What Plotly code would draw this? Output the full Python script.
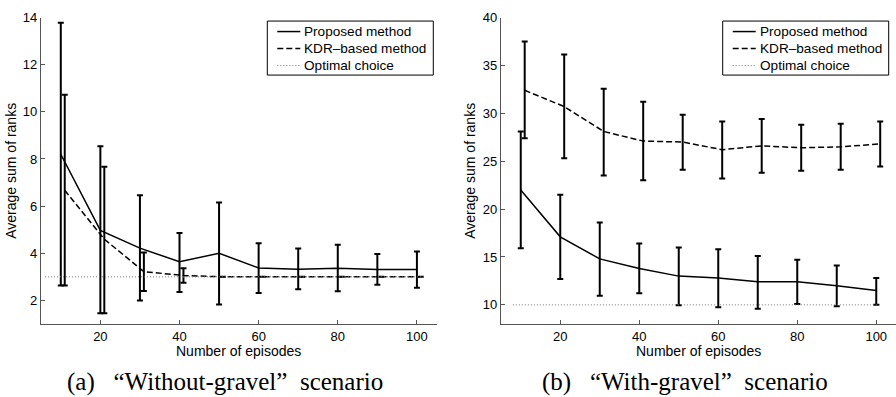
import plotly.graph_objects as go

# Number of training episodes (x positions of the proposed method)
EPISODES = [10, 20, 30, 40, 50, 60, 70, 80, 90, 100]
# KDR-based results are drawn one episode to the right so the bars do not overlap
KDR_SHIFT = 1

# (a) Without-gravel scenario
A_PROP_MEAN = [8.2, 4.97, 4.22, 3.64, 4.0, 3.38, 3.32, 3.36, 3.31, 3.31]
A_PROP_UP = [13.78, 8.54, 6.46, 4.86, 6.15, 4.43, 4.2, 4.36, 3.97, 4.08]
A_PROP_LO = [2.63, 1.46, 2.0, 2.36, 1.83, 2.32, 2.47, 2.39, 2.67, 2.54]
A_KDR_MEAN = [6.67, 4.6, 3.22, 3.06, 3.0, 3.0, 3.0, 3.0, 3.0, 3.0]
A_KDR_UP = [10.72, 7.67, 4.03, 3.36, 3.0, 3.0, 3.0, 3.0, 3.0, 3.0]
A_KDR_LO = [2.63, 1.46, 2.4, 2.75, 3.0, 3.0, 3.0, 3.0, 3.0, 3.0]
A_OPTIMAL = 3
A_OPT_SPAN = [6, 102]

# (b) With-gravel scenario
B_PROP_MEAN = [22.0, 17.1, 14.8, 13.8, 13.0, 12.8, 12.4, 12.4, 12.0, 11.5]
B_PROP_UP = [28.1, 21.5, 18.6, 16.4, 16.0, 15.8, 15.1, 14.7, 14.1, 12.8]
B_PROP_LO = [15.9, 12.7, 10.95, 11.2, 9.95, 9.75, 9.6, 10.1, 9.85, 10.0]
B_KDR_MEAN = [32.4, 30.7, 28.1, 27.1, 27.0, 26.2, 26.6, 26.4, 26.5, 26.8]
B_KDR_UP = [37.5, 36.15, 32.55, 31.2, 29.85, 29.15, 29.4, 28.8, 28.9, 29.15]
B_KDR_LO = [27.4, 25.3, 23.5, 23.0, 24.1, 23.2, 23.8, 24.0, 24.1, 24.45]
B_OPTIMAL = 10
B_OPT_SPAN = [8, 101]

A_YTICKS = [2, 4, 6, 8, 10, 12, 14]
B_YTICKS = [10, 15, 20, 25, 30, 35, 40]
XTICKS = [20, 40, 60, 80, 100]

SERIES_NAMES = ["Proposed method", "KDR\u2013based method", "Optimal choice"]
NB = "\u00a0"
CAPTIONS = ["(a)" + NB * 3 + "\u201cWithout-gravel\u201d" + NB * 2 + "scenario",
            "(b)" + NB * 3 + "\u201cWith-gravel\u201d" + NB * 2 + "scenario"]
X_TITLE = "Number of episodes"
Y_TITLE = "Average sum of ranks"

W, H = 896, 397
SANS = "Liberation Sans, Arial, Helvetica, sans-serif"
SERIF = "Liberation Serif, Times New Roman, serif"

LINE_STYLES = [
    dict(color="black", width=1.5),
    dict(color="black", width=1.5, dash="6px,3px"),
    dict(color="#777777", width=1, dash="1px,2px"),
]


def err(mean, up, lo):
    return dict(type="data", symmetric=False,
                array=[u - m for u, m in zip(up, mean)],
                arrayminus=[m - l for m, l in zip(mean, lo)],
                color="black", thickness=2, width=3)


fig = go.Figure()


def add_panel(xa, ya, pm, pu, pl, km, ku, kl, opt, span):
    kx = [e + KDR_SHIFT for e in EPISODES]
    fig.add_trace(go.Scatter(
        x=EPISODES, y=pm, mode="lines", name=SERIES_NAMES[0],
        line=LINE_STYLES[0], error_y=err(pm, pu, pl), xaxis=xa, yaxis=ya))
    fig.add_trace(go.Scatter(
        x=kx, y=km, mode="lines", name=SERIES_NAMES[1],
        line=LINE_STYLES[1], error_y=err(km, ku, kl), xaxis=xa, yaxis=ya))
    fig.add_trace(go.Scatter(
        x=span, y=[opt, opt], mode="lines", name=SERIES_NAMES[2],
        line=LINE_STYLES[2], xaxis=xa, yaxis=ya))


add_panel("x", "y", A_PROP_MEAN, A_PROP_UP, A_PROP_LO,
          A_KDR_MEAN, A_KDR_UP, A_KDR_LO, A_OPTIMAL, A_OPT_SPAN)
add_panel("x2", "y2", B_PROP_MEAN, B_PROP_UP, B_PROP_LO,
          B_KDR_MEAN, B_KDR_UP, B_KDR_LO, B_OPTIMAL, B_OPT_SPAN)

axis_common = dict(ticks="inside", ticklen=4, tickwidth=1, tickcolor="#555555",
                   showline=True, linecolor="#555555", linewidth=1.2,
                   showgrid=False, zeroline=False,
                   tickfont=dict(family=SANS, size=13, color="black"))

y_dom = [1 - 322.7 / H, 1 - 10.7 / H]
fig.update_layout(
    width=W, height=H, margin=dict(l=0, r=0, t=0, b=0),
    paper_bgcolor="white", plot_bgcolor="white", showlegend=False,
    xaxis=dict(domain=[41 / W, 436.7 / W], range=[5, 105], tickvals=XTICKS,
               anchor="y", **axis_common),
    yaxis=dict(domain=y_dom, range=[1, 14], tickvals=A_YTICKS, anchor="x", **axis_common),
    xaxis2=dict(domain=[501 / W, 1.0], range=[5, 105], tickvals=XTICKS,
                anchor="y2", **axis_common),
    yaxis2=dict(domain=y_dom, range=[8, 40], tickvals=B_YTICKS, anchor="x2", **axis_common),
)


def px(x):
    return x / W


def py(y):
    return 1 - y / H


annotations = []
shapes = []

# Legend box for each panel (right edge in pixels)
for right in (433.3, 888.7):
    left = right - 166
    shapes.append(dict(type="rect", xref="paper", yref="paper",
                       x0=px(left), x1=px(right), y0=py(69.3), y1=py(14.3),
                       line=dict(color="black", width=1), fillcolor="white", layer="above"))
    for i, (name, style) in enumerate(zip(SERIES_NAMES, LINE_STYLES)):
        yc = 25 + i * 17.3
        shapes.append(dict(type="line", xref="paper", yref="paper",
                           x0=px(right - 156), x1=px(right - 133), y0=py(yc), y1=py(yc),
                           line=style, layer="above"))
        annotations.append(dict(x=px(right - 131), y=py(yc), xref="paper", yref="paper",
                                text=name, showarrow=False, xanchor="left", yanchor="middle",
                                font=dict(family=SANS, size=13.6, color="black")))

for cx, ytx in [((41 + 436.7) / 2, 11), ((501 + 896) / 2, 470)]:
    annotations.append(dict(x=px(cx), y=py(350), xref="paper", yref="paper",
                            text=X_TITLE, showarrow=False, xanchor="center", yanchor="middle",
                            font=dict(family=SANS, size=14, color="black")))
    annotations.append(dict(x=px(ytx), y=py(166.7), xref="paper", yref="paper",
                            text=Y_TITLE, showarrow=False, textangle=-90,
                            xanchor="center", yanchor="middle",
                            font=dict(family=SANS, size=14, color="black")))
for cx, cap in zip([225.4, 685], CAPTIONS):
    annotations.append(dict(x=px(cx), y=py(381.7), xref="paper", yref="paper",
                            text=cap, showarrow=False, xanchor="center", yanchor="middle",
                            font=dict(family=SERIF, size=25, color="black")))
fig.update_layout(annotations=annotations, shapes=shapes)

fig.write_html("out.html")
